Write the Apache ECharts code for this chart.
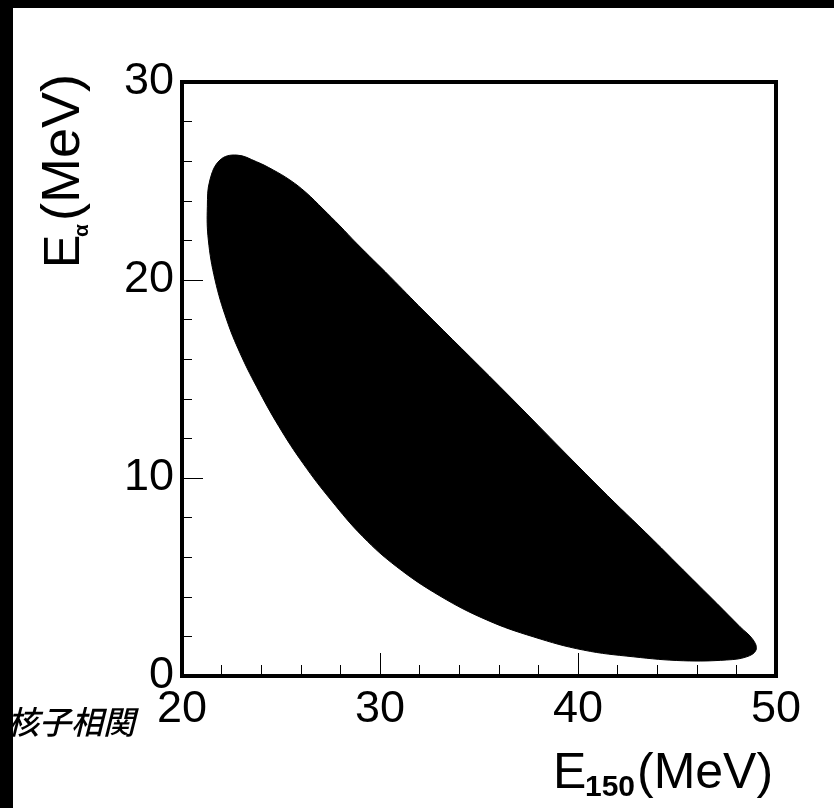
<!DOCTYPE html>
<html><head><meta charset="utf-8">
<script src="https://cdn.jsdelivr.net/npm/echarts@6/dist/echarts.min.js"></script>
<style>html,body{margin:0;padding:0;background:#fff;}#c{width:834px;height:808px;}</style>
</head><body><div id="c"></div>
<script>
// Kinematic locus outline (E150, Ealpha) in MeV, traced clockwise from the top peak
const outlineX = [22.76,23.77,24.60,25.45,26.26,27.12,27.98,28.82,30.51,32.17,36.06,41.11,43.80,45.32,47.01,48.18,48.85,48.99,48.52,47.51,45.32,42.79,40.27,37.74,35.39,33.03,30.84,29.13,27.52,26.11,24.90,23.77,22.93,22.26,21.67,21.33,21.28,21.41,21.92];
const outlineY = [26.31,25.97,25.56,25.05,24.42,23.59,22.73,21.85,20.17,18.48,14.61,9.49,6.87,5.35,3.67,2.49,1.82,1.31,0.97,0.81,0.77,0.97,1.31,1.98,2.83,4.04,5.52,7.04,8.89,10.74,12.59,14.61,16.31,17.98,20.00,22.02,23.70,25.05,26.06];
const xTicks = [20,30,40,50];
const yTicks = [0,10,20,30];
const xTitleMain = 'E', xTitleSub = '150', xTitleUnit = '(MeV)';
const yTitleMain = 'E', yTitleSub = 'α', yTitleUnit = '(MeV)';
const cornerLabel = '核子相関';

const chart = echarts.init(document.getElementById('c'), null, {renderer:'canvas'});
const font = 'Liberation Sans, Arial, sans-serif';
const pts = outlineX.map((x,i)=>[x, outlineY[i]]);

chart.setOption({
  backgroundColor:'#fff',
  animation:false,
  grid:{left:182, top:82, width:594, height:594, show:true, borderColor:'#000', borderWidth:4, backgroundColor:'transparent'},
  xAxis:{type:'value', min:xTicks[0], max:xTicks[xTicks.length-1], interval:10,
    axisLine:{show:false}, splitLine:{show:false},
    axisTick:{show:true, inside:true, length:23, lineStyle:{color:'#000', width:1}},
    minorTick:{show:true, splitNumber:5, length:11, lineStyle:{color:'#000', width:1}},
    axisLabel:{fontSize:45, fontFamily:font, color:'#000', margin:11, formatter:v=>xTicks.includes(v)?String(v):''}},
  yAxis:{type:'value', min:yTicks[0], max:yTicks[yTicks.length-1], interval:10,
    axisLine:{show:false}, splitLine:{show:false},
    axisTick:{show:true, inside:true, length:21, lineStyle:{color:'#000', width:1}},
    minorTick:{show:true, splitNumber:5, length:10, lineStyle:{color:'#000', width:1}},
    axisLabel:{fontSize:45, fontFamily:font, color:'#000', margin:8, formatter:v=>yTicks.includes(v)?String(v):''}},
  series:[{
    type:'custom', coordinateSystem:'cartesian2d', data:pts, z:1,
    renderItem:function(params, api){
      if(params.dataIndex!==0) return null;
      const poly = pts.map(p=>api.coord(p));
      return {type:'polygon', shape:{points:poly, smooth:0.4}, style:{fill:'#000', stroke:'#000', lineWidth:1}};
    }
  }],
  graphic:[
    {type:'text', x:553, y:799, style:{text:xTitleMain, font:'50px '+font, fill:'#000', verticalAlign:'bottom'}},
    {type:'text', x:585, y:803, style:{text:xTitleSub, font:'bold 30px '+font, fill:'#000', verticalAlign:'bottom'}},
    {type:'text', x:637, y:799, style:{text:xTitleUnit, font:'50px '+font, fill:'#000', verticalAlign:'bottom'}},
    {type:'group', x:90, y:268, rotation:Math.PI/2, children:[
      {type:'text', x:0, y:0, style:{text:yTitleMain, font:'50px '+font, fill:'#000', verticalAlign:'bottom'}},
      {type:'text', x:31, y:3, style:{text:yTitleSub, font:'bold 21px '+font, fill:'#000', verticalAlign:'bottom'}},
      {type:'text', x:47, y:1, style:{text:yTitleUnit, font:'54px '+font, fill:'#000', verticalAlign:'bottom'}}
    ]},
    {type:'text', x:135, y:722, style:{text:cornerLabel, font:'italic 500 32px "Noto Sans CJK JP"', fill:'#000', align:'right', verticalAlign:'middle'}},
    {type:'rect', x:0, y:0, z:100, shape:{width:834, height:8}, style:{fill:'#000'}},
    {type:'rect', x:0, y:0, z:100, shape:{width:13, height:808}, style:{fill:'#000'}}
  ]
});
</script></body></html>
